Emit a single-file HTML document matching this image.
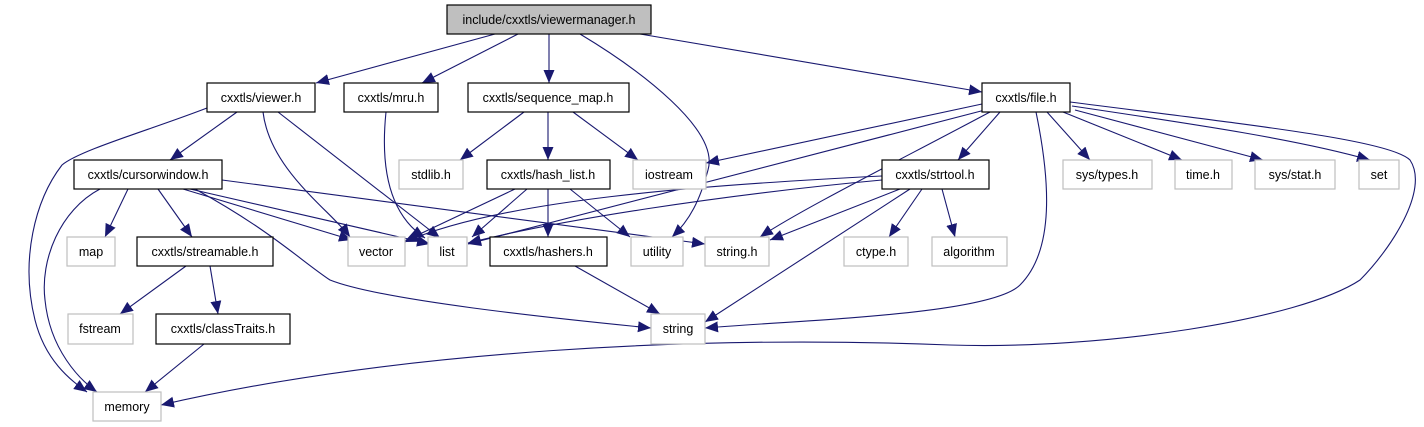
<!DOCTYPE html>
<html><head><meta charset="utf-8"><style>
body{margin:0;background:#fff}
svg{display:block}
text{font-family:"Liberation Sans",sans-serif;font-size:12.5px;text-anchor:middle}
.b{fill:#fff;stroke:#000;stroke-width:1.2}
.g{fill:#fff;stroke:#bfbfbf;stroke-width:1.2}
path.e{fill:none;stroke:#191970;stroke-width:1.1;marker-end:url(#a)}
</style></head><body>
<svg width="1424" height="427" viewBox="0 0 1424 427" xmlns="http://www.w3.org/2000/svg">
<defs><marker id="a" markerUnits="userSpaceOnUse" markerWidth="14" markerHeight="12" refX="13" refY="5.5" orient="auto"><path d="M0,0 L13,5.5 L0,11 Z" fill="#191970"/></marker></defs>
<g>
<path class="e" d="M495,34 L316,83"/>
<path class="e" d="M518,34 L422,83"/>
<path class="e" d="M549,34 L549,83"/>
<path class="e" d="M580,34 C640,70 720,130 708,170 C700,200 690,220 672,237"/>
<path class="e" d="M640,34 L982,92"/>
<path class="e" d="M207,108 C150,130 80,150 62,165 C35,200 20,260 35,320 C45,360 70,380 87,392"/>
<path class="e" d="M237,112 L170,160"/>
<path class="e" d="M263,112 C270,170 330,210 350,237"/>
<path class="e" d="M278,112 L440,238"/>
<path class="e" d="M386,112 C380,170 390,215 425,238"/>
<path class="e" d="M524,112 L460,160"/>
<path class="e" d="M548,112 L548,160"/>
<path class="e" d="M573,112 L638,160"/>
<path class="e" d="M128,189 L105,237"/>
<path class="e" d="M158,189 L192,237"/>
<path class="e" d="M183,189 L352,240"/>
<path class="e" d="M190,189 L430,244"/>
<path class="e" d="M195,189 C270,230 300,260 330,280 C380,300 550,318 651,328"/>
<path class="e" d="M222,180 L705,244"/>
<path class="e" d="M100,189 C60,210 40,260 45,300 C50,350 80,380 97,392"/>
<path class="e" d="M186,266 L120,314"/>
<path class="e" d="M210,266 L218,314"/>
<path class="e" d="M204,344 L145,392"/>
<path class="e" d="M515,189 L405,241"/>
<path class="e" d="M527,189 L472,237"/>
<path class="e" d="M548,189 L548,237"/>
<path class="e" d="M570,189 L630,237"/>
<path class="e" d="M575,266 L660,314"/>
<path class="e" d="M982,104 L706,163"/>
<path class="e" d="M985,110 L468,244"/>
<path class="e" d="M990,112 C900,160 800,210 760,237"/>
<path class="e" d="M882,176 C700,185 500,200 405,242"/>
<path class="e" d="M882,180 C720,195 560,220 468,243"/>
<path class="e" d="M900,189 L770,240"/>
<path class="e" d="M922,189 L889,237"/>
<path class="e" d="M942,189 L955,237"/>
<path class="e" d="M910,189 L705,322"/>
<path class="e" d="M1000,112 L958,160"/>
<path class="e" d="M1036,112 C1050,180 1055,250 1020,285 C990,315 800,320 705,328"/>
<path class="e" d="M1047,112 L1090,160"/>
<path class="e" d="M1063,112 L1182,160"/>
<path class="e" d="M1075,110 L1263,160"/>
<path class="e" d="M1072,106 C1200,125 1300,140 1370,160"/>
<path class="e" d="M1070,102 C1250,125 1390,140 1410,160 C1430,190 1390,250 1360,280 C1300,320 1100,350 950,345 C700,335 400,350 161,405"/>
</g>
<rect x="447" y="5" width="204" height="29" fill="#bfbfbf" stroke="#000" stroke-width="1.2"/><text x="549" y="24">include/cxxtls/viewermanager.h</text>
<rect class="b" x="207" y="83" width="108" height="29"/><text x="261" y="102">cxxtls/viewer.h</text>
<rect class="b" x="344" y="83" width="94" height="29"/><text x="391" y="102">cxxtls/mru.h</text>
<rect class="b" x="468" y="83" width="161" height="29"/><text x="548" y="102">cxxtls/sequence_map.h</text>
<rect class="b" x="982" y="83" width="88" height="29"/><text x="1026" y="102">cxxtls/file.h</text>
<rect class="b" x="74" y="160" width="148" height="29"/><text x="148" y="179">cxxtls/cursorwindow.h</text>
<rect class="g" x="399" y="160" width="64" height="29"/><text x="431" y="179">stdlib.h</text>
<rect class="b" x="487" y="160" width="123" height="29"/><text x="548" y="179">cxxtls/hash_list.h</text>
<rect class="g" x="633" y="160" width="73" height="29"/><text x="669" y="179">iostream</text>
<rect class="b" x="882" y="160" width="107" height="29"/><text x="935" y="179">cxxtls/strtool.h</text>
<rect class="g" x="1063" y="160" width="89" height="29"/><text x="1107" y="179">sys/types.h</text>
<rect class="g" x="1175" y="160" width="57" height="29"/><text x="1203" y="179">time.h</text>
<rect class="g" x="1255" y="160" width="80" height="29"/><text x="1295" y="179">sys/stat.h</text>
<rect class="g" x="1359" y="160" width="40" height="29"/><text x="1379" y="179">set</text>
<rect class="g" x="67" y="237" width="48" height="29"/><text x="91" y="256">map</text>
<rect class="b" x="137" y="237" width="136" height="29"/><text x="205" y="256">cxxtls/streamable.h</text>
<rect class="g" x="348" y="237" width="57" height="29"/><text x="376" y="256">vector</text>
<rect class="g" x="428" y="237" width="39" height="29"/><text x="447" y="256">list</text>
<rect class="b" x="490" y="237" width="117" height="29"/><text x="548" y="256">cxxtls/hashers.h</text>
<rect class="g" x="631" y="237" width="52" height="29"/><text x="657" y="256">utility</text>
<rect class="g" x="705" y="237" width="64" height="29"/><text x="737" y="256">string.h</text>
<rect class="g" x="844" y="237" width="64" height="29"/><text x="876" y="256">ctype.h</text>
<rect class="g" x="932" y="237" width="75" height="29"/><text x="969" y="256">algorithm</text>
<rect class="g" x="68" y="314" width="65" height="30"/><text x="100" y="333">fstream</text>
<rect class="b" x="156" y="314" width="134" height="30"/><text x="223" y="333">cxxtls/classTraits.h</text>
<rect class="g" x="651" y="314" width="54" height="30"/><text x="678" y="333">string</text>
<rect class="g" x="93" y="392" width="68" height="29"/><text x="127" y="411">memory</text>
</svg>
</body></html>
